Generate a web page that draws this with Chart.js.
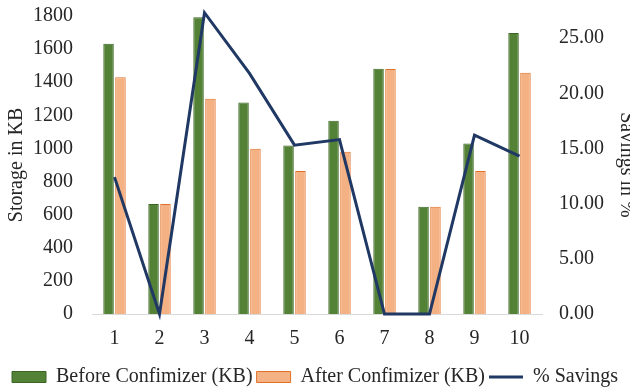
<!DOCTYPE html>
<html>
<head>
<meta charset="utf-8">
<script src="https://cdn.jsdelivr.net/npm/chart.js@4/dist/chart.umd.min.js"></script>
<style>
  html, body { margin: 0; padding: 0; background: #ffffff; overflow: hidden; }
  #wrap { position: relative; width: 630px; height: 391px; }
</style>
</head>
<body>
<div id="wrap"><canvas id="chart" width="630" height="391"></canvas></div>
<script>
// Storage per file before and after Confimizer, with the resulting saving
const categories = ['1', '2', '3', '4', '5', '6', '7', '8', '9', '10'];
const beforeKB = [1633, 665, 1792, 1277, 1018, 1167, 1481, 648, 1030, 1698];
const afterKB = [1430, 665, 1300, 998, 864, 980, 1480, 648, 864, 1457];
const savingsPct = [12.4, 0, 27.3, 21.8, 15.3, 15.8, 0, 0, 16.2, 14.3];
const storageTicks = [0, 200, 400, 600, 800, 1000, 1200, 1400, 1600, 1800];
const savingsTicks = [0, 5, 10, 15, 20, 25];

const serif = "'Liberation Serif', 'Times New Roman', serif";
const textColor = '#262626';
const fontSize = 20;

new Chart(document.getElementById('chart'), {
  data: {
    labels: categories,
    datasets: [
      {
        type: 'line',
        label: '% Savings',
        data: savingsPct,
        yAxisID: 'y1',
        borderColor: '#203864',
        backgroundColor: '#203864',
        borderWidth: 3,
        pointRadius: 0,
        pointStyle: 'line',
        tension: 0,
        clip: false,
        order: 0
      },
      {
        type: 'bar',
        label: 'Before Confimizer (KB)',
        data: beforeKB,
        yAxisID: 'y',
        backgroundColor: '#538135',
        borderColor: '#3b6624',
        borderWidth: 1,
        pointStyle: 'rect',
        categoryPercentage: 0.53,
        barPercentage: 0.88,
        order: 1
      },
      {
        type: 'bar',
        label: 'After Confimizer (KB)',
        data: afterKB,
        yAxisID: 'y',
        backgroundColor: '#f4b183',
        borderColor: '#e07128',
        borderWidth: 1,
        pointStyle: 'rect',
        categoryPercentage: 0.53,
        barPercentage: 0.88,
        order: 1
      }
    ]
  },
  options: {
    responsive: false,
    animation: false,
    layout: { padding: { top: 16, right: 0, bottom: -6, left: 0 } },
    plugins: {
      tooltip: { enabled: false },
      legend: {
        position: 'bottom',
        labels: {
          font: { family: serif, size: fontSize },
          color: textColor,
          usePointStyle: true,
          pointStyleWidth: 34,
          boxHeight: 11,
          padding: 4,
          sort: (a, b) => a.datasetIndex === 0 ? 1 : (b.datasetIndex === 0 ? -1 : a.datasetIndex - b.datasetIndex)
        }
      }
    },
    scales: {
      x: {
        grid: { display: false, drawTicks: true, tickLength: 11 },
        border: { display: true, color: '#d9d9d9', width: 1 },
        ticks: { font: { family: serif, size: fontSize }, color: textColor, padding: 2 },
        afterFit: (scale) => { scale.height = 49; }
      },
      y: {
        position: 'left',
        min: 0,
        max: 1800,
        grid: { display: false, drawTicks: true, tickLength: 17 },
        border: { display: false },
        afterBuildTicks: (scale) => { scale.ticks = storageTicks.map(v => ({ value: v })); },
        ticks: {
          font: { family: serif, size: fontSize },
          color: textColor,
          padding: 2,
          callback: (v) => String(v)
        },
        title: {
          display: true,
          text: 'Storage in KB',
          font: { family: serif, size: fontSize },
          color: textColor,
          padding: { top: 5, bottom: 0 }
        },
        afterFit: (scale) => { scale.width = 92; }
      },
      y1: {
        position: 'right',
        min: 0,
        max: 27,
        grid: { display: false, drawTicks: true, tickLength: 15 },
        border: { display: false },
        afterBuildTicks: (scale) => { scale.ticks = savingsTicks.map(v => ({ value: v })); },
        ticks: {
          font: { family: serif, size: fontSize },
          color: textColor,
          padding: 2,
          callback: (v) => Number(v).toFixed(2)
        },
        title: {
          display: true,
          text: 'Savings in %',
          font: { family: serif, size: fontSize },
          color: textColor,
          padding: { top: -8, bottom: 0 }
        },
        afterFit: (scale) => { scale.width = 88; }
      }
    }
  }
});
</script>
</body>
</html>
